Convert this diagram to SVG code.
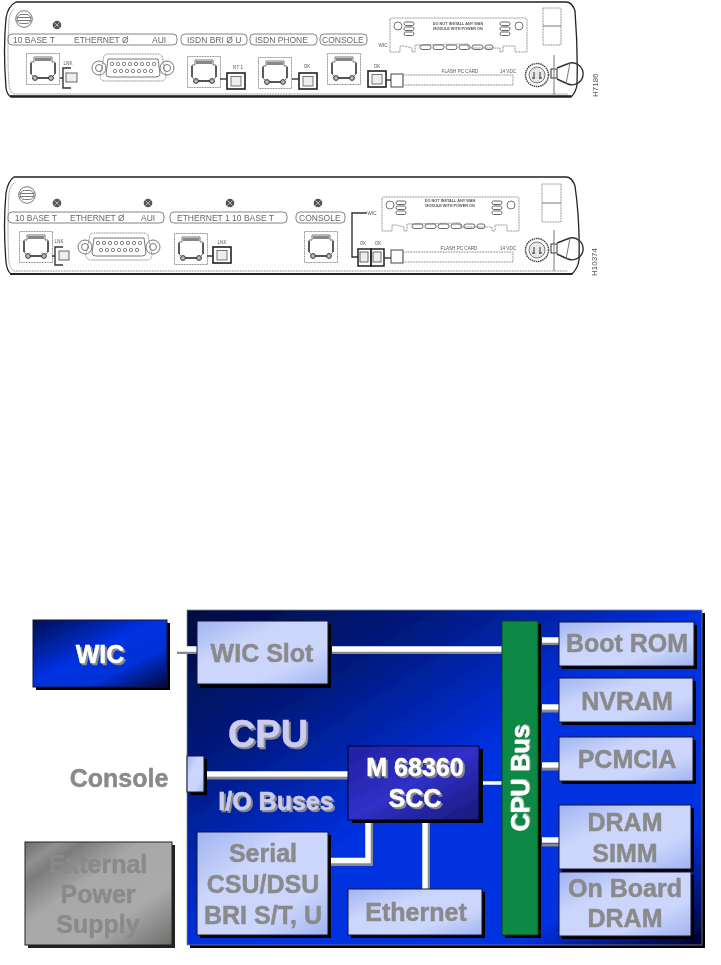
<svg xmlns="http://www.w3.org/2000/svg" xmlns:xlink="http://www.w3.org/1999/xlink" width="721" height="965" viewBox="0 0 721 965">
<style>
text{font-family:"Liberation Sans",Arial,sans-serif}
.b{font-weight:bold;font-size:25px;text-anchor:middle;fill:#8a8a8a;stroke:#8a8a8a;stroke-width:.5}
.w{fill:#fff;stroke:#fff;filter:drop-shadow(2px 2px 0 #8a8a8a)}
.l{fill:#ccccf0;stroke:#ccccf0;filter:drop-shadow(2px 2px 0 #8a8a8a)}
.lb{font-size:8.5px;fill:#666}
.sm{font-size:4.6px;fill:#555;text-anchor:middle}
.pill{fill:none;stroke:#777;stroke-width:.9}
.ln{fill:none;stroke:#777;stroke-width:1}
.dk{fill:none;stroke:#333;stroke-width:1.4}
.dot{fill:none;stroke:#888;stroke-width:1;stroke-dasharray:1 .6}
.sh{fill:#000}
.box{stroke:#10103a;stroke-width:1}
.cw{stroke:#fff;fill:none}
.cs{stroke:#8a8a8a;fill:none}
</style>
<defs>
<filter id="soft" x="-5%" y="-5%" width="110%" height="110%"><feGaussianBlur stdDeviation="0.6"/></filter>
<filter id="soft2" x="-2%" y="-2%" width="104%" height="104%"><feGaussianBlur stdDeviation="0.5"/></filter>
<linearGradient id="gBlue" x1="0" y1="0" x2="1" y2="1"><stop offset="0" stop-color="#000c40"/><stop offset=".25" stop-color="#001a80"/><stop offset=".5" stop-color="#0030e0"/><stop offset=".82" stop-color="#0030e0"/><stop offset="1" stop-color="#000030"/></linearGradient>
<linearGradient id="gWic" x1="0" y1="0" x2="1" y2="1"><stop offset="0" stop-color="#001050"/><stop offset=".45" stop-color="#0030e0"/><stop offset=".7" stop-color="#0030d8"/><stop offset="1" stop-color="#000838"/></linearGradient>
<linearGradient id="gLight" x1="0" y1="0" x2="1" y2="1"><stop offset="0" stop-color="#a0b4f0"/><stop offset=".35" stop-color="#ccd6fc"/><stop offset=".7" stop-color="#ccd6fc"/><stop offset="1" stop-color="#a0b4f0"/></linearGradient>
<linearGradient id="gScc" x1="0" y1="0" x2="1" y2="1"><stop offset="0" stop-color="#2020a0"/><stop offset=".5" stop-color="#3030c8"/><stop offset="1" stop-color="#181878"/></linearGradient>
<linearGradient id="gGray" x1="0" y1="0" x2="1" y2="1"><stop offset="0" stop-color="#6c7068"/><stop offset=".12" stop-color="#909090"/><stop offset=".2" stop-color="#7c7c7c"/><stop offset=".4" stop-color="#a8a8a8"/><stop offset=".7" stop-color="#aaa"/><stop offset=".85" stop-color="#8c8c8c"/><stop offset="1" stop-color="#6c7068"/></linearGradient>
<g id="rj45">
<rect class="dot" x=".5" y=".5" width="33" height="31"/>
<path class="ln" d="M5 9H8V4H26V9H29V21L25 25H9L5 21Z"/>
<path d="M9 5H25V8H9Z" fill="#888"/>
<path class="dk" d="M5 10V21M29 10V21M10 25H24" stroke-width="1"/>
<circle cx="9" cy="25" r="2.4" fill="#bbb" stroke="#333"/><circle cx="25" cy="25" r="2.4" fill="#bbb" stroke="#333"/>
</g>
<g id="db15">
<circle class="ln" cx="-34" cy="0" r="7"/><circle class="ln" cx="-34" cy="0" r="3.5"/>
<circle class="ln" cx="34" cy="0" r="7"/><circle class="ln" cx="34" cy="0" r="3.5"/>
<path class="dot" d="M-29 -12Q-28 -14 -24 -14H24Q28 -14 29 -12L33 8Q33 13 27 13H-27Q-33 13 -33 8Z" stroke-width="1.3"/>
<path class="ln" d="M-25 -9H25L27 6Q27 9 23 9H-23Q-27 9 -27 6Z"/>
<g fill="none" stroke="#666" stroke-width=".8"><circle cx="-21" cy="-4" r="1.7"/><circle cx="-15" cy="-4" r="1.7"/><circle cx="-9" cy="-4" r="1.7"/><circle cx="-3" cy="-4" r="1.7"/><circle cx="3" cy="-4" r="1.7"/><circle cx="9" cy="-4" r="1.7"/><circle cx="15" cy="-4" r="1.7"/><circle cx="21" cy="-4" r="1.7"/><circle cx="-18" cy="3" r="1.7"/><circle cx="-12" cy="3" r="1.7"/><circle cx="-6" cy="3" r="1.7"/><circle cx="0" cy="3" r="1.7"/><circle cx="6" cy="3" r="1.7"/><circle cx="12" cy="3" r="1.7"/><circle cx="18" cy="3" r="1.7"/></g>
</g>
<g id="screw"><circle cx="0" cy="0" r="4.3" fill="#555"/><path d="M-2.5 -2.5L2.5 2.5M-2.5 2.5L2.5 -2.5" stroke="#ccc" stroke-width=".8"/></g>
<g id="pwr"><circle class="ln" cx="0" cy="0" r="8.3" stroke-width="1.3"/><rect class="ln" x="-7" y="-4.5" width="14" height="9" rx="4.5"/><path class="ln" d="M-7 -1.5H7M-7 1.5H7"/></g>
<g id="led"><rect x="0" y="0" width="18" height="16" fill="none" stroke="#222" stroke-width="1.6"/><rect x="4" y="3.500" width="10" height="9.500" fill="#eee" stroke="#666" stroke-width=".9"/></g>
<g id="wicslot">
<path class="dot" d="M0 2Q0 0 2 0H135Q137 0 137 2V34H125V28H113V34H110V30H78V26L25 27V34H22V30L14 28H10V34H0Z" stroke-width="1"/>
<circle class="ln" cx="8" cy="8" r="4"/><circle class="ln" cx="129" cy="8" r="4"/>
<g fill="none" stroke="#666" stroke-width="1"><rect x="14" y="4" width="10" height="3.500" rx="1.700"/><rect x="14" y="9" width="10" height="3.500" rx="1.700"/><rect x="14" y="14" width="10" height="3.500" rx="1.700"/><rect x="110" y="4" width="10" height="3.500" rx="1.700"/><rect x="110" y="9" width="10" height="3.500" rx="1.700"/><rect x="110" y="14" width="10" height="3.500" rx="1.700"/>
<rect x="30" y="27" width="11" height="4.500" rx="2.200"/><rect x="43" y="27" width="11" height="4.500" rx="2.200"/><rect x="56" y="27" width="11" height="4.500" rx="2.200"/><rect x="69" y="27" width="11" height="4.500" rx="2.200"/><rect x="82" y="27" width="11" height="4.500" rx="2.200"/><rect x="95" y="27" width="8" height="4.500" rx="2.200"/></g>
</g>
<g id="socket">
<circle cx="0" cy="0" r="11.500" fill="none" stroke="#444" stroke-width="1.500" stroke-dasharray="1.500 .7"/>
<circle cx="0" cy="0" r="8" fill="#e8e8e8" stroke="#777"/>
<path d="M-3 -3V4M3 -3V4M-5 3H-2M2 3H5" stroke="#444" stroke-width="1.100"/>
</g>
<g id="clip">
<path class="dk" d="M20 -7Q30 -11 33 -12A11 11 0 1 1 31 9Q26 7 20 4" stroke-width="1.300"/>
<rect x="14" y="-6" width="6" height="9" fill="#fff" stroke="#333"/>
<path class="ln" d="M17 -20V21M33 -12L29 9" stroke="#444"/>
</g>
</defs>

<g id="panel-top" filter="url(#soft)">
<path d="M16 2H566Q572 2 575 11Q578 50 577 85Q576 92 571 97H11Q7 95 6 88Q3 50 6 18Q8 6 16 2Z" fill="#fff" stroke="#222" stroke-width="1.300"/>
<path d="M14 9Q10 12 9 20Q7 55 9 85Q10 92 14 94H568" fill="none" stroke="#888" stroke-dasharray="1 .6"/>
<path d="M10 96H571" stroke="#111" stroke-width="1.600"/>
<use xlink:href="#pwr" x="24" y="19"/>
<use xlink:href="#screw" x="57" y="25"/>
<rect class="pill" x="8" y="34" width="169" height="11" rx="4"/>
<text class="lb" x="13" y="43">10 BASE T</text><text class="lb" x="74" y="43">ETHERNET Ø</text><text class="lb" x="152" y="43">AUI</text>
<rect class="pill" x="181" y="34" width="66" height="11" rx="4"/><text class="lb" x="187" y="43">ISDN BRI Ø U</text>
<rect class="pill" x="250" y="34" width="67" height="11" rx="4"/><text class="lb" x="255" y="43">ISDN PHONE</text>
<rect class="pill" x="320" y="34" width="47" height="11" rx="4"/><text class="lb" x="322" y="43">CONSOLE</text>
<use xlink:href="#rj45" x="26" y="53"/>
<text class="sm" x="68" y="65">LNK</text>
<path class="dk" d="M71 68H63V88H71M60 78H63"/><rect x="66" y="73" width="11" height="9" fill="#eee" stroke="#666"/>
<use xlink:href="#db15" x="133" y="68"/>
<use xlink:href="#rj45" x="187" y="56"/><text class="sm" x="238" y="69">NT 1</text><use xlink:href="#led" x="227" y="73"/><path class="dk" d="M220 79H227"/>
<use xlink:href="#rj45" x="258" y="57"/><text class="sm" x="307" y="68">OK</text><use xlink:href="#led" x="299" y="73"/><path class="dk" d="M292 79H299"/>
<use xlink:href="#rj45" x="327" y="53"/><text class="sm" x="377" y="68">OK</text><use xlink:href="#led" x="368" y="71"/><path class="dk" d="M386 80H391" stroke-width="1"/>
<rect x="391" y="74" width="12" height="13" fill="#fff" stroke="#444"/><rect class="dot" x="403" y="75" width="110" height="10"/>
<text class="sm" x="460" y="73">FLASH PC CARD</text><text class="sm" x="508" y="73">14 VDC</text>
<use xlink:href="#wicslot" x="390" y="18"/><text class="sm" x="383" y="47">WIC</text>
<text class="sm" font-weight="bold" x="458" y="25" style="font-size:3.800px">DO NOT INSTALL ANY WAN</text><text class="sm" font-weight="bold" x="458" y="30" style="font-size:3.800px">MODULE WITH POWER ON</text>
<rect class="dot" x="543" y="8" width="18" height="37" stroke-width="1.500"/><path class="ln" d="M543 26H561"/>
<use xlink:href="#socket" x="537" y="75"/><use xlink:href="#clip" x="537" y="75"/>
<text x="0" y="0" transform="translate(598,97) rotate(-90)" style="font-size:8px;fill:#555">H7186</text>
</g>

<g id="panel-bottom" filter="url(#soft)">
<path d="M14 177H566Q572 177 575 186Q580 220 579 260Q578 268 572 274H11Q7 271 6 262Q3 225 6 193Q8 181 14 177Z" fill="#fff" stroke="#222" stroke-width="1.300"/>
<path d="M14 183Q10 186 9 194Q7 230 9 262Q10 268 14 271H568" fill="none" stroke="#888" stroke-dasharray="1 .6"/>
<path d="M10 274H572" stroke="#111" stroke-width="1.600"/>
<use xlink:href="#pwr" x="27" y="195"/>
<use xlink:href="#screw" x="57" y="203"/><use xlink:href="#screw" x="148" y="203"/><use xlink:href="#screw" x="230" y="203"/><use xlink:href="#screw" x="318" y="203"/>
<rect class="pill" x="8" y="212" width="156" height="11" rx="4"/>
<text class="lb" x="15" y="221">10 BASE T</text><text class="lb" x="70" y="221">ETHERNET Ø</text><text class="lb" x="141" y="221">AUI</text>
<rect class="pill" x="170" y="212" width="117" height="11" rx="4"/><text class="lb" x="177" y="221">ETHERNET 1 10 BASE T</text>
<rect class="pill" x="296" y="212" width="49" height="11" rx="4"/><text class="lb" x="299" y="221">CONSOLE</text>
<use xlink:href="#rj45" x="19" y="231"/>
<text class="sm" x="59" y="243">LNK</text>
<path class="dk" d="M63 247H55V265H63M52 256H55"/><rect x="59" y="251" width="10" height="9" fill="#eee" stroke="#666"/>
<use xlink:href="#db15" x="119" y="247"/>
<use xlink:href="#rj45" x="174" y="233"/><text class="sm" x="222" y="244">LNK</text><use xlink:href="#led" x="213" y="247"/><path class="dk" d="M207 256H213"/>
<use xlink:href="#rj45" x="304" y="231"/>
<text class="sm" x="372" y="215">WIC</text><path class="dk" d="M367 213H352V257H358"/>
<text class="sm" x="363" y="245">OK</text><text class="sm" x="378" y="245">OK</text>
<rect x="358" y="249" width="13" height="17" fill="none" stroke="#222" stroke-width="1.500"/><rect x="371" y="249" width="13" height="17" fill="none" stroke="#222" stroke-width="1.500"/>
<rect x="360" y="252" width="8" height="10" fill="#eee" stroke="#666"/><rect x="373" y="252" width="8" height="10" fill="#eee" stroke="#666"/>
<path class="dk" d="M384 258H391" stroke-width="1"/>
<rect x="391" y="250" width="12" height="13" fill="#fff" stroke="#444"/><rect class="dot" x="403" y="252" width="110" height="10"/>
<text class="sm" x="459" y="250">FLASH PC CARD</text><text class="sm" x="508" y="250">14 VDC</text>
<use xlink:href="#wicslot" transform="translate(382,197)"/>
<text class="sm" font-weight="bold" x="450" y="202" style="font-size:3.800px">DO NOT INSTALL ANY WAN</text><text class="sm" font-weight="bold" x="450" y="207" style="font-size:3.800px">MODULE WITH POWER ON</text>
<rect class="dot" x="542" y="184" width="19" height="38" stroke-width="1.500"/><path class="ln" d="M542 203H561"/>
<use xlink:href="#socket" x="537" y="250"/><use xlink:href="#clip" x="537" y="250"/>
<text x="0" y="0" transform="translate(597,276) rotate(-90)" style="font-size:8px;fill:#555">H10374</text>
</g>

<g filter="url(#soft2)">
<g id="cpu">
<rect class="sh" x="190" y="613" width="515" height="335" fill="#000"/><rect x="187" y="610" width="515" height="335" fill="url(#gBlue)" stroke="#888" stroke-width=".8"/>
<text class="b l" style="font-size:38px" x="268" y="747">CPU</text>
<text class="b l" x="276" y="810">I/O Buses</text>
</g>

<g id="connectors">
<g stroke-width="3"><path class="cs" d="M177 652.500H197M332 652.500H502M207 778H348M542 643.500H559M542 711H559M542 769H559M542 845H559M330 864.500H371.500V822M428.500 822V889"/></g>
<g stroke-width="5.500"><path class="cw" d="M167 649H197M332 649H502M207 774H348M542 640H559M542 707H559M542 765H559M542 840H559M330 860.500H368V820M425 820V889"/></g>
<path class="cw" stroke-width="3.500" d="M483 783H502"/>
</g>

<g id="wic"><rect class="sh" x="36" y="623" width="134" height="67"/><rect class="box" x="33" y="620" width="134" height="67" fill="url(#gWic)"/><text class="b w" x="100" y="663">WIC</text></g>
<g id="wic-slot"><rect class="sh" x="200" y="624" width="131" height="64"/><rect class="box" x="197" y="621" width="131" height="63" fill="url(#gLight)"/><text class="b" x="262" y="662">WIC Slot</text></g>
<g id="console-port"><rect class="sh" x="190" y="759" width="17" height="36"/><rect x="187" y="756" width="17" height="36" fill="url(#gLight)" stroke="#10103a"/></g>
<g id="console"><text class="b" x="119" y="787">Console</text></g>
<g id="power"><rect x="28" y="845" width="147" height="103" fill="#222"/><rect x="25" y="842" width="147" height="103" fill="url(#gGray)" stroke="#222"/><text class="b" x="98" y="873">External</text><text class="b" x="98" y="903">Power</text><text class="b" x="98" y="933">Supply</text></g>
<g id="serial"><rect class="sh" x="200" y="835" width="131" height="103"/><rect class="box" x="197" y="832" width="131" height="103" fill="url(#gLight)"/><text class="b" x="263" y="862">Serial</text><text class="b" x="263" y="893">CSU/DSU</text><text class="b" x="263" y="924">BRI S/T, U</text></g>
<g id="scc"><rect class="sh" x="352" y="749" width="131" height="74"/><rect x="348" y="746" width="131" height="74" fill="url(#gScc)" stroke="#000030"/><text class="b w" x="415" y="776">M 68360</text><text class="b w" x="415" y="807">SCC</text></g>
<g id="ethernet"><rect class="sh" x="351" y="892" width="134" height="46"/><rect class="box" x="348" y="889" width="134" height="46" fill="url(#gLight)"/><text class="b" x="416" y="921">Ethernet</text></g>
<g id="cpu-bus"><rect class="sh" x="505" y="624" width="36" height="314"/><rect x="502" y="621" width="36" height="314" fill="#108844" stroke="#004020"/><text class="b" style="fill:#fff;stroke:#fff;filter:drop-shadow(1px 1px 0 #b0b0b0)" transform="translate(529,778) rotate(-90)">CPU Bus</text></g>
<g id="boot-rom"><rect class="sh" x="562" y="625" width="135" height="44"/><rect class="box" x="559" y="622" width="135" height="44" fill="url(#gLight)"/><text class="b" x="627" y="652">Boot ROM</text></g>
<g id="nvram"><rect class="sh" x="562" y="681" width="134" height="44"/><rect class="box" x="559" y="678" width="134" height="44" fill="url(#gLight)"/><text class="b" x="627" y="710">NVRAM</text></g>
<g id="pcmcia"><rect class="sh" x="562" y="740" width="134" height="44"/><rect class="box" x="559" y="737" width="134" height="44" fill="url(#gLight)"/><text class="b" x="627" y="768">PCMCIA</text></g>
<g id="dram-simm"><rect class="sh" x="562" y="808" width="132" height="64"/><rect class="box" x="559" y="805" width="132" height="64" fill="url(#gLight)"/><text class="b" x="625" y="831">DRAM</text><text class="b" x="625" y="862">SIMM</text></g>
<g id="onboard-dram"><rect class="sh" x="562" y="875" width="132" height="64"/><rect class="box" x="559" y="872" width="132" height="64" fill="url(#gLight)"/><text class="b" x="625" y="897">On Board</text><text class="b" x="625" y="927">DRAM</text></g>
</g>
</svg>
